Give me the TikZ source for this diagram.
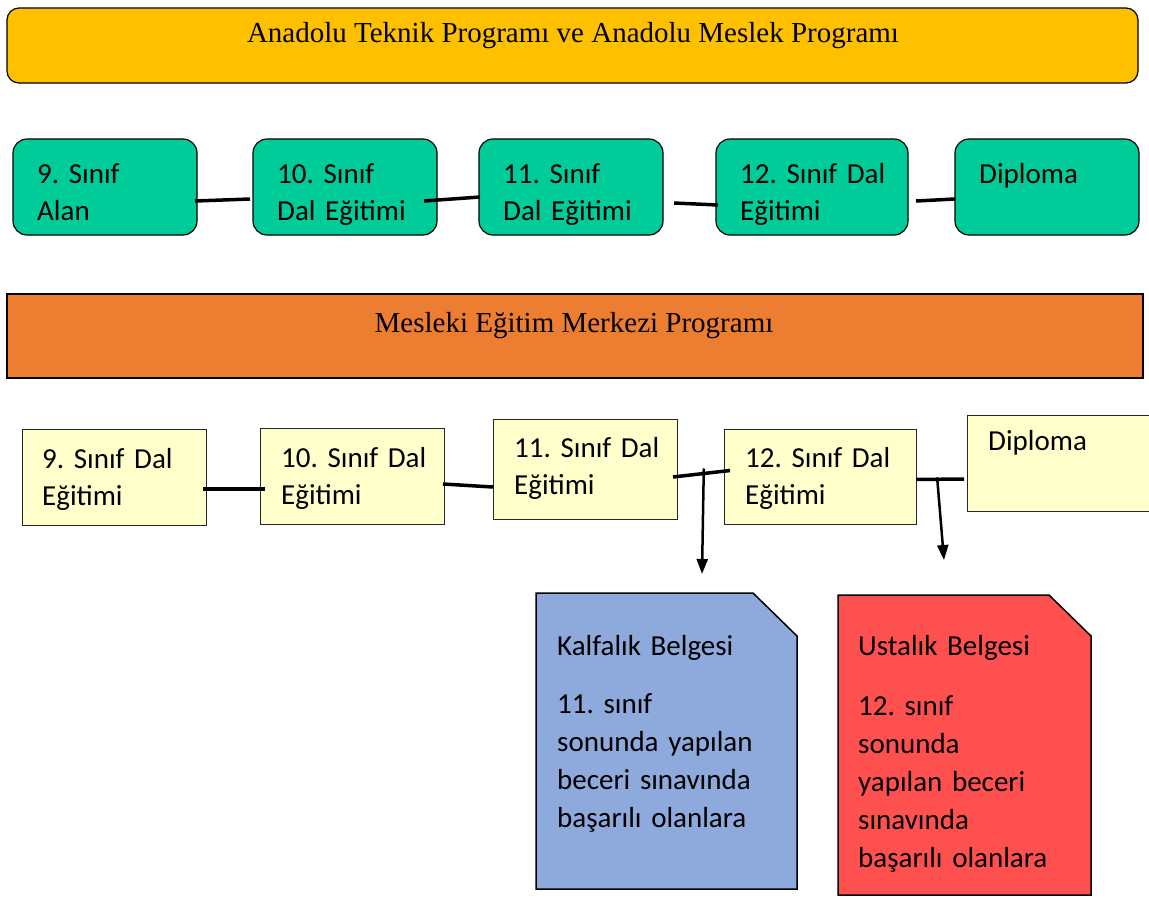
\documentclass[tikz,border=0pt]{standalone}
\usepackage{fontspec}
\setmainfont{Liberation Serif}
\newfontfamily\calibri{Carlito}
\usetikzlibrary{arrows.meta}
\definecolor{bargold}{HTML}{FFC000}
\definecolor{barorange}{HTML}{ED7D31}
\definecolor{stepgreen}{HTML}{00CC99}
\definecolor{stepyellow}{HTML}{FFFFCC}
\definecolor{certblue}{HTML}{8EA9DB}
\definecolor{certred}{HTML}{FF5050}
\tikzset{
  progbar/.style={draw=black, line width=1.2pt, anchor=north west,
                  inner sep=0pt, outer sep=0pt},
  bartitle/.style={anchor=base, inner sep=0pt,
                   font=\fontsize{29}{34}\selectfont},
  greenbox/.style={draw=black, line width=1.2pt, fill=stepgreen,
                   rounded corners=14pt, anchor=north west,
                   minimum height=96pt, inner sep=0pt, outer sep=0pt},
  yellowbox/.style={draw=black!85, line width=1pt, fill=stepyellow,
                    anchor=north west, inner sep=0pt, outer sep=0pt},
  boxtext/.style={anchor=north west, inner sep=0pt, text width=170pt,
                  align=left,
                  font=\calibri\fontsize{29}{37}\selectfont\frenchspacing},
  certtext/.style={boxtext, text width=225pt,
                   font=\calibri\fontsize{29}{38}\selectfont\frenchspacing},
  certpaper/.style={draw=black, line width=1.5pt},
  link/.style={draw, line width=3.5pt},
  drop/.style={draw, line width=2.5pt, -{Triangle[length=15pt,width=11pt]}}
}
\newcommand{\fl}{\rule{0pt}{24pt}}

\begin{document}
\begin{tikzpicture}[x=1pt, y=-1pt]
  \useasboundingbox (0,0) rectangle (1149,898);

  % program bars
  \node[progbar, fill=bargold, rounded corners=12pt, minimum width=1131pt,
        minimum height=75pt] (ustbar) at (7,8) {};
  \node[bartitle] (usttitle) at (573,42)
    {Anadolu Teknik Programı ve Anadolu Meslek Programı};
  \node[progbar, fill=barorange, minimum width=1136pt,
        minimum height=84pt] (altbar) at (7,294) {};
  \node[bartitle] (alttitle) at (574,332) {Mesleki Eğitim Merkezi Programı};

  % upper row
  \foreach \n/\x/\w/\t in {1/13/184/{9. Sınıf\\Alan},
                           2/253/184/{10. Sınıf\\Dal Eğitimi},
                           3/479/184/{11. Sınıf\\Dal Eğitimi},
                           4/716/192/{12. Sınıf Dal\\Eğitimi},
                           5/955/184/{Diploma}} {
    \node[greenbox, minimum width=\w pt] (g\n) at (\x,139) {};
    \node[boxtext] (g\n t) at (\x+24,159) {\fl\t};
  }
  \draw[link] ([shift={(-2,14)}]g1.east) -- ([shift={(-3,12)}]g2.west);
  \draw[link] ([shift={(-13,14)}]g2.east) -- ([shift={(1,10)}]g3.west);
  \draw[link] ([shift={(11,16)}]g3.east) -- ([shift={(2,18)}]g4.west);
  \draw[link] ([shift={(8,14)}]g4.east) -- ([shift={(0,12)}]g5.west);

  % lower row
  \node[yellowbox, minimum width=184pt, minimum height=96pt] (y1) at (22,429) {};
  \node[boxtext] (y1t) at (42,444) {\fl 9. Sınıf Dal\\Eğitimi};
  \node[yellowbox, minimum width=184pt, minimum height=96pt] (y2) at (260,428) {};
  \node[boxtext] (y2t) at (281,443) {\fl 10. Sınıf Dal\\Eğitimi};
  \node[yellowbox, minimum width=184pt, minimum height=100pt] (y3) at (493,419) {};
  \node[boxtext] (y3t) at (514,433) {\fl 11. Sınıf Dal\\Eğitimi};
  \node[yellowbox, minimum width=192pt, minimum height=95pt] (y4) at (724,429) {};
  \node[boxtext] (y4t) at (745,443) {\fl 12. Sınıf Dal\\Eğitimi};
  \node[yellowbox, minimum width=190pt, minimum height=96pt] (y5) at (967,415) {};
  \node[boxtext] (y5t) at (988,426) {\fl Diploma};

  \draw[link] ([shift={(-3,12)}]y1.east) -- ([shift={(5,13)}]y2.west);
  \draw[link] ([shift={(-1,8)}]y2.east) -- ([shift={(0,18)}]y3.west);
  \draw[link] ([shift={(-4,8)}]y3.east) -- coordinate[pos=0.54] (k34)
              ([shift={(6,-6)}]y4.west);
  \draw[link] ([shift={(0,3)}]y4.east) -- coordinate[pos=0.44] (k45)
              ([shift={(-3,16)}]y5.west);

  % certificates
  \coordinate (kalfaucu) at (702,574);
  \coordinate (ustaucu) at (944,560);
  \draw[drop] ([yshift=5]k34) -- (kalfaucu);
  \draw[drop] ([yshift=2]k45) -- (ustaucu);

  \draw[certpaper, fill=certblue]
    (536,593) -- (753,593) -- (797,636) -- (797,889) -- (536,889) -- cycle;
  \node[certtext] (kalfa) at (557,631)
    {\fl Kalfalık Belgesi\\[20pt]11. sınıf\\sonunda yapılan\\beceri sınavında\\başarılı olanlara};
  \draw[certpaper, fill=certred]
    (838,595) -- (1049,595) -- (1091,636) -- (1091,895) -- (838,895) -- cycle;
  \node[certtext] (usta) at (858,631)
    {\fl Ustalık Belgesi\\[22pt]12. sınıf\\sonunda\\yapılan beceri\\sınavında\\başarılı olanlara};
\end{tikzpicture}
\end{document}
